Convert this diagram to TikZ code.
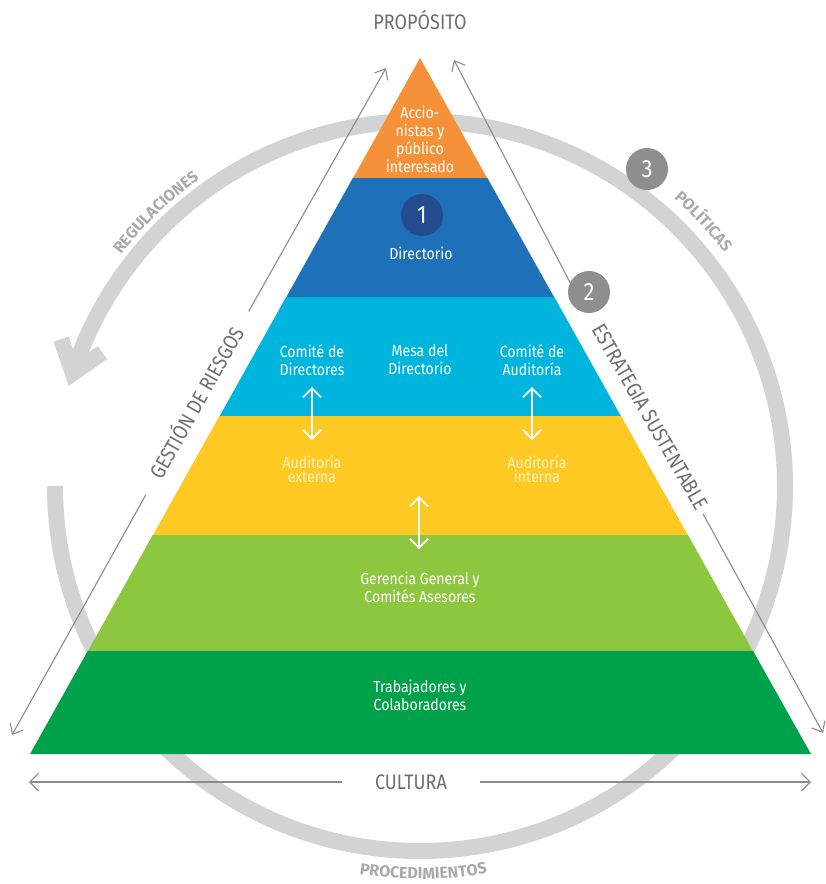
\documentclass[tikz,border=0pt]{standalone}
\usepackage{fontspec}
\setmainfont{Fira Sans}
\newfontfamily\pyrfont{Fira Sans}[FakeStretch=0.88]
\newfontfamily\grayfont{Fira Sans}[FakeStretch=0.86]
\newfontfamily\ringfont{Fira Sans}
\usetikzlibrary{arrows.meta,decorations.text,calc}
\definecolor{corange}{HTML}{F59239}
\definecolor{cblue}{HTML}{1E70B9}
\definecolor{ccyan}{HTML}{00B5DD}
\definecolor{cyellow}{HTML}{FFC923}
\definecolor{clgreen}{HTML}{8DC63F}
\definecolor{cgreen}{HTML}{00A14B}
\definecolor{cnavy}{HTML}{234B8E}
\definecolor{cdisk}{HTML}{8D8E90}
\definecolor{cring}{HTML}{D1D3D4}
\definecolor{cringtxt}{HTML}{A7A9AC}
\definecolor{cline}{HTML}{8A8B8D}
\definecolor{clabel}{HTML}{6D6E71}
\definecolor{cpale}{HTML}{FFF2C2}
\begin{document}
\begin{tikzpicture}[x=1pt,y=1pt,
  pyr/.style={font=\pyrfont\fontsize{16}{18}\selectfont, text=white, align=center, inner sep=0pt},
  pale/.style={font=\pyrfont\fontsize{16}{14}\selectfont, text=cpale, align=center, inner sep=0pt},
  graylbl/.style={font=\grayfont\fontsize{21}{21}\selectfont, text=clabel, inner ysep=0pt, text height=14.5pt, text depth=0pt},
  disk/.style={circle, minimum size=42pt, inner sep=0pt, text=white, font=\pyrfont\fontsize{25}{25}\selectfont},
  thinline/.style={draw=cline, line width=1.1pt},
  thinarrow/.style={thinline, -{Straight Barb[length=9pt,width=15pt]}},
  cultarrow/.style={thinline, -{Straight Barb[length=9pt,width=18pt]}},
  whitearrow/.style={draw=white, line width=1.8pt, {Straight Barb[length=9pt,width=18pt]}-{Straight Barb[length=9pt,width=18pt]}},
  ring/.style={draw=cring, line width=16pt}
]
\useasboundingbox (0,0) rectangle (826,-884);
\coordinate (C) at (420,-486);

% ring with arrow
\draw[ring, line cap=butt] (55,-486) arc[start angle=180, end angle=522, radius=365];
\coordinate (V) at ($(C)+(162:365)$);
\coordinate (A1) at ($(V)+(109:36)$);
\coordinate (A2) at ($(V)+(35:36)$);
\draw[ring, line join=miter, line cap=butt] (A1) -- (V) -- (A2);

% ring labels
\path[decorate, decoration={text along path, text align=center, text color=cringtxt,
  text={|\ringfont\bfseries\fontsize{16}{16}\selectfont|REGULACIONES}}]
  ($(C)+(160:378)$) arc[start angle=160, end angle=108, radius=378];
\path[decorate, decoration={text along path, text align=center, text color=cringtxt,
  text={|\ringfont\bfseries\fontsize{16}{16}\selectfont|POLÍTICAS}}]
  ($(C)+(70:383.5)$) arc[start angle=70, end angle=16, radius=383.5];
\path[decorate, decoration={text along path, text align=center, text color=cringtxt,
  text={|\ringfont\bfseries\fontsize{16}{16}\selectfont|PROCEDIMIENTOS}}]
  ($(C)+(-111.5:393)$) arc[start angle=-111.5, end angle=-67.5, radius=393];

% pyramid
\fill[corange] (420,-58) -- (487.4,-178.5) -- (352.8,-178.5) -- cycle;
\fill[cblue] (352.8,-178) -- (487.4,-178) -- (554.3,-297.5) -- (286.1,-297.5) -- cycle;
\fill[ccyan] (286.1,-297) -- (554.3,-297) -- (621.1,-416.5) -- (219.4,-416.5) -- cycle;
\fill[cyellow] (219.4,-416) -- (621.1,-416) -- (688,-535.5) -- (152.7,-535.5) -- cycle;
\fill[clgreen] (152.7,-535) -- (688,-535) -- (753.1,-651.5) -- (87.7,-651.5) -- cycle;
\fill[cgreen] (87.7,-651) -- (753.1,-651) -- (811,-754) -- (30,-754) -- cycle;

% pyramid texts
\node[pyr] (acc) at (420,-139) {\fontsize{16}{19}\selectfont Accio-\\nistas y\\público\\interesado};
\node[disk, fill=cnavy] (one) at (422,-215) {1};
\node[pyr] (dir) at (421,-253) {Directorio};
\node[pyr] (cdd) at (312,-360) {Comité de\\Directores};
\node[pyr] (mesa) at (420,-360) {Mesa del\\Directorio};
\node[pyr] (cda) at (532,-360) {Comité de\\Auditoría};
\node[pale] (aext) at (312,-469) {Auditoría\\externa};
\node[pale] (aint) at (537,-469) {Auditoría\\interna};
\node[pyr] (ger) at (420,-587) {Gerencia General y\\Comités Asesores};
\node[pyr] (trab) at (420,-695) {Trabajadores y\\Colaboradores};

% white double arrows
\coordinate (wa1) at (312,-387); \coordinate (wb1) at (312,-440);
\coordinate (wa2) at (532,-387); \coordinate (wb2) at (532,-440);
\coordinate (wa3) at (419,-496); \coordinate (wb3) at (419,-549);
\draw[whitearrow] (wa1) -- (wb1);
\draw[whitearrow] (wa2) -- (wb2);
\draw[whitearrow] (wa3) -- (wb3);

% top label
\node[graylbl] (prop) at (420,-22) {PROPÓSITO};

% left side
\coordinate (L1) at (12,-735);
\coordinate (L2) at (386,-68);
\node[graylbl, rotate=60.7, inner xsep=20pt] (gest) at (197,-403) {GESTIÓN DE RIESGOS};
\draw[thinarrow] (gest) -- (L2);
\draw[thinarrow] (gest) -- (L1);

% right side
\coordinate (R1) at (454,-60);
\coordinate (R1e) at (575,-292);
\coordinate (R2) at (823,-733);
\draw[thinarrow] (R1e) -- (R1);
\node[graylbl, rotate=-60, inner xsep=5pt] (estr) at (650,-417) {ESTRATEGIA SUSTENTABLE};
\draw[thinarrow] (estr) -- (R2);
\node[disk, fill=cdisk] (two) at (589,-292) {2};
\node[disk, fill=cdisk] (three) at (647,-169) {3};

% bottom
\coordinate (CL) at (29,-782);
\coordinate (CR) at (811,-782);
\node[graylbl, inner xsep=33pt] (cult) at (411,-782) {CULTURA};
\draw[cultarrow] (cult) -- (CL);
\draw[cultarrow] (cult) -- (CR);
\end{tikzpicture}
\end{document}
